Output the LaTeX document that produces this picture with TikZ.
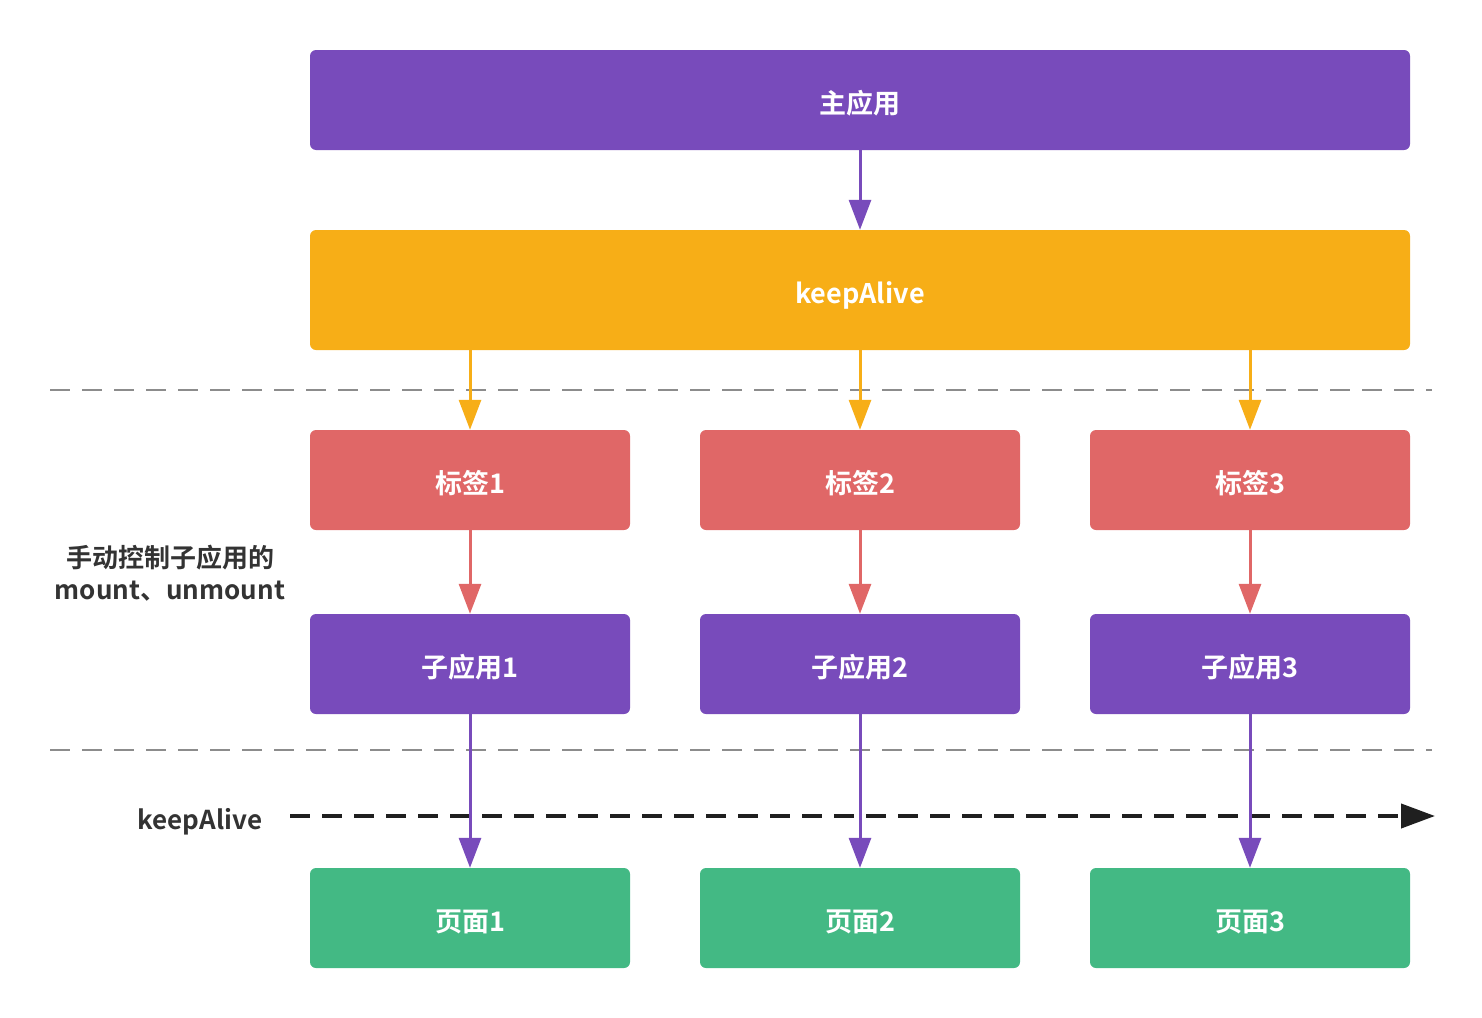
\documentclass[tikz,border=0pt]{standalone}
\usepackage{fontspec}
\setmainfont{Noto Sans CJK SC}[BoldFont={* Bold}]
\usetikzlibrary{arrows.meta}
\definecolor{cpurple}{HTML}{784BBB}
\definecolor{corange}{HTML}{F7AE17}
\definecolor{cred}{HTML}{E06767}
\definecolor{cgreen}{HTML}{43B984}
\definecolor{cgray}{HTML}{8C8C8C}
\definecolor{ctext}{HTML}{333333}
% zero-size box so the label sits a little below the box centre
\newcommand{\boxtext}[1]{\raisebox{-13.5pt}[0pt][0pt]{#1}}
\begin{document}
\begin{tikzpicture}[x=1pt,y=-1pt,
  box/.style={rounded corners=6pt, inner sep=0pt, text=white,
    minimum width=320pt, minimum height=100pt,
    font=\fontsize{27}{30}\selectfont\bfseries},
  wide/.style={box, minimum width=1100pt},
  link/.style={line width=3pt, -{Triangle[length=30pt,width=22pt]}},
  sep/.style={cgray, line width=2pt, dash pattern=on 20pt off 12pt},
  side/.style={text=ctext, font=\fontsize{26}{32}\selectfont\bfseries, align=center}]
\useasboundingbox (0,0) rectangle (1482,1017);
% top boxes
\node[wide, fill=cpurple] (main) at (860,100) {\boxtext{主应用}};
\node[wide, fill=corange, minimum height=120pt] (ka) at (860,290) {\boxtext{keepAlive}};
% per-column boxes
\foreach \i/\x in {1/470,2/860,3/1250}{
  \node[box, fill=cred] (tag\i) at (\x,480) {\boxtext{标签\i}};
  \node[box, fill=cpurple] (sub\i) at (\x,664) {\boxtext{子应用\i}};
  \node[box, fill=cgreen] (page\i) at (\x,918) {\boxtext{页面\i}};
}
% separators
\coordinate (s1L) at (50,390);  \coordinate (s1R) at (1432,390);
\coordinate (s2L) at (50,750);  \coordinate (s2R) at (1432,750);
\draw[sep] (s1L) -- (s1R);
\draw[sep] (s2L) -- (s2R);
% keepAlive timeline
\coordinate (kaL) at (290,816);
\coordinate (kaR) at (1435,816);
\draw[line width=4pt, black!88, dash pattern=on 20pt off 12pt,
  -{Triangle[length=34pt,width=24pt]}] (kaL) -- (kaR);
% connectors
\draw[link, cpurple] (main.south) -- (ka.north);
\foreach \i in {1,2,3}{
  \draw[link, corange] (tag\i.north |- ka.south) -- (tag\i.north);
  \draw[link, cred] (tag\i.south) -- (sub\i.north);
  \draw[link, cpurple] (sub\i.south) -- (page\i.north);
}
% side labels
\node[side] (ctl) at (170,573) {手动控制子应用的\\mount、unmount};
\node[side] (kal) at (200,822) {keepAlive};
\end{tikzpicture}
\end{document}
